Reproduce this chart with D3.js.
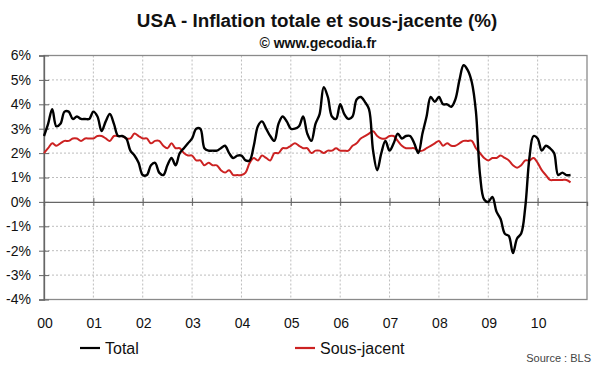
<!DOCTYPE html>
<html>
<head>
<meta charset="utf-8">
<script src="https://cdn.jsdelivr.net/npm/d3@7"></script>
<style>
  body { margin: 0; background: #fff; }
  svg { display: block; font-family: "Liberation Sans", Arial, sans-serif; }
</style>
</head>
<body>
<svg id="chart" width="600" height="372"></svg>
<script>
// monthly year-on-year change, Jan 2000 -> Sep 2010
var totalCPI = [
  2.7, 3.2, 3.8, 3.1, 3.2, 3.7, 3.7, 3.4, 3.5, 3.4, 3.4, 3.4,
  3.7, 3.5, 2.9, 3.3, 3.6, 3.2, 2.7, 2.7, 2.6, 2.1, 1.9, 1.6,
  1.1, 1.1, 1.5, 1.6, 1.2, 1.1, 1.5, 1.8, 1.5, 2.0, 2.2, 2.4,
  2.6, 3.0, 3.0, 2.2, 2.1, 2.1, 2.1, 2.2, 2.3, 2.0, 1.8, 1.9,
  1.9, 1.7, 1.7, 2.3, 3.1, 3.3, 3.0, 2.7, 2.5, 3.2, 3.5, 3.3,
  3.0, 3.0, 3.1, 3.5, 2.8, 2.5, 3.2, 3.6, 4.7, 4.3, 3.5, 3.4,
  4.0, 3.6, 3.4, 3.5, 4.2, 4.3, 4.1, 3.8, 2.1, 1.3, 2.0, 2.5,
  2.1, 2.4, 2.8, 2.6, 2.7, 2.7, 2.4, 2.0, 2.8, 3.5, 4.3, 4.1,
  4.3, 4.0, 4.0, 3.9, 4.2, 5.0, 5.6, 5.4, 4.9, 3.7, 1.1, 0.1,
  0.0, 0.2, -0.4, -0.7, -1.3, -1.4, -2.1, -1.5, -1.3, -0.2, 1.8, 2.7,
  2.6, 2.1, 2.3, 2.2, 2.0, 1.1, 1.2, 1.1, 1.1
];

var coreCPI = [
  2.0, 2.2, 2.4, 2.3, 2.4, 2.5, 2.5, 2.6, 2.6, 2.5, 2.6, 2.6,
  2.6, 2.7, 2.7, 2.6, 2.5, 2.7, 2.7, 2.7, 2.6, 2.6, 2.8, 2.7,
  2.6, 2.6, 2.4, 2.5, 2.5, 2.3, 2.2, 2.4, 2.2, 2.2, 2.0, 1.9,
  1.9, 1.7, 1.7, 1.5, 1.6, 1.5, 1.5, 1.3, 1.2, 1.3, 1.1, 1.1,
  1.1, 1.2, 1.6, 1.8, 1.7, 1.9, 1.8, 1.7, 2.0, 2.0, 2.2, 2.2,
  2.3, 2.4, 2.3, 2.2, 2.2, 2.0, 2.1, 2.1, 2.0, 2.1, 2.1, 2.2,
  2.1, 2.1, 2.1, 2.3, 2.4, 2.6, 2.7, 2.8, 2.9, 2.7, 2.6, 2.6,
  2.7, 2.7, 2.5, 2.3, 2.2, 2.2, 2.2, 2.1, 2.1, 2.2, 2.3, 2.4,
  2.5, 2.3, 2.4, 2.3, 2.3, 2.4, 2.5, 2.5, 2.5, 2.2, 2.0, 1.8,
  1.7, 1.8, 1.8, 1.9, 1.8, 1.7, 1.5, 1.4, 1.5, 1.7, 1.7, 1.8,
  1.6, 1.3, 1.1, 0.9, 0.9, 0.9, 0.9, 0.9, 0.8
];

var yearLabels = ["00", "01", "02", "03", "04", "05", "06", "07", "08", "09", "10"];
var yTicks = [-4, -3, -2, -1, 0, 1, 2, 3, 4, 5, 6];

var svg = d3.select("#chart");

var x = d3.scaleLinear().domain([0, 11]).range([44, 587]);
var y = d3.scaleLinear().domain([-4, 6]).range([299.5, 55.5]);

// titles
svg.append("text")
    .attr("x", 317).attr("y", 27)
    .attr("text-anchor", "middle")
    .attr("font-size", "18.8px").attr("font-weight", "bold")
    .attr("fill", "#111")
    .text("USA - Inflation totale et sous-jacente (%)");

svg.append("text")
    .attr("x", 318).attr("y", 48)
    .attr("text-anchor", "middle")
    .attr("font-size", "14px").attr("font-weight", "bold")
    .attr("fill", "#111")
    .text("\u00a9 www.gecodia.fr");

// grid
svg.append("g").selectAll("line.hgrid")
    .data(yTicks.filter(function(d) { return d != 0 && d != -4 && d != 6; }))
    .enter().append("line")
    .attr("class", "hgrid")
    .attr("x1", x(0)).attr("x2", x(11))
    .attr("y1", function(d) { return y(d); })
    .attr("y2", function(d) { return y(d); })
    .attr("stroke", "#bdbdbd").attr("stroke-dasharray", "2,2");

svg.append("g").selectAll("line.vgrid")
    .data(d3.range(1, 11))
    .enter().append("line")
    .attr("class", "vgrid")
    .attr("x1", function(d) { return x(d); })
    .attr("x2", function(d) { return x(d); })
    .attr("y1", y(6)).attr("y2", y(-4))
    .attr("stroke", "#bdbdbd").attr("stroke-dasharray", "2,2");

// frame
svg.append("rect")
    .attr("x", x(0)).attr("y", y(6))
    .attr("width", x(11) - x(0)).attr("height", y(-4) - y(6))
    .attr("fill", "none").attr("stroke", "#8a8a8a").attr("stroke-width", 1.3);

// y axis
var yAxis = d3.axisLeft(y)
    .tickValues(yTicks)
    .tickSize(5)
    .tickPadding(8)
    .tickFormat(function(d) { return d + "%"; });

var yg = svg.append("g")
    .attr("transform", "translate(" + x(0) + ",0)")
    .call(yAxis);
yg.select(".domain").attr("stroke", "#666").attr("stroke-width", 1.3);
yg.selectAll(".tick line").attr("x2", -5).attr("x1", 5).attr("stroke", "#666");
yg.selectAll(".tick text")
    .attr("font-size", "14px").attr("fill", "#111")
    .attr("font-family", "Liberation Sans, Arial, sans-serif");

// zero line with year ticks
var xAxis = d3.axisBottom(x)
    .tickValues(d3.range(0, 11))
    .tickSize(4)
    .tickFormat("");

var xg = svg.append("g")
    .attr("transform", "translate(0," + y(0) + ")")
    .call(xAxis);
xg.select(".domain").attr("stroke", "#666").attr("stroke-width", 1.3);
xg.selectAll(".tick line").attr("y1", -4).attr("y2", 4).attr("stroke", "#666");

// year labels
svg.append("g").selectAll("text.year")
    .data(yearLabels)
    .enter().append("text")
    .attr("class", "year")
    .attr("x", function(d, i) { return x(i) + 1; })
    .attr("y", 327.5)
    .attr("text-anchor", "middle")
    .attr("font-size", "14px").attr("fill", "#111")
    .text(function(d) { return d; });

// series
var line = d3.line()
    .x(function(d, i) { return x(i / 12); })
    .y(function(d) { return y(d); })
    .curve(d3.curveCatmullRom.alpha(0.5));

svg.append("path")
    .datum(coreCPI)
    .attr("d", line)
    .attr("fill", "none")
    .attr("stroke", "#cc2222")
    .attr("stroke-width", 2);

svg.append("path")
    .datum(totalCPI)
    .attr("d", line)
    .attr("fill", "none")
    .attr("stroke", "#000")
    .attr("stroke-width", 2.4);

// legend
var legend = [
  {name: "Total", color: "#000", x: 80},
  {name: "Sous-jacent", color: "#cc2222", x: 295}
];

var lg = svg.append("g").selectAll("g")
    .data(legend)
    .enter().append("g")
    .attr("transform", function(d) { return "translate(" + d.x + ",348)"; });

lg.append("line")
    .attr("x1", 0).attr("x2", 20)
    .attr("stroke", function(d) { return d.color; })
    .attr("stroke-width", 2.2);

lg.append("text")
    .attr("x", 25).attr("y", 6)
    .attr("font-size", "16px").attr("fill", "#111")
    .text(function(d) { return d.name; });

svg.append("text")
    .attr("x", 591).attr("y", 362)
    .attr("text-anchor", "end")
    .attr("font-size", "11px").attr("fill", "#444")
    .text("Source : BLS");
</script>
</body>
</html>
